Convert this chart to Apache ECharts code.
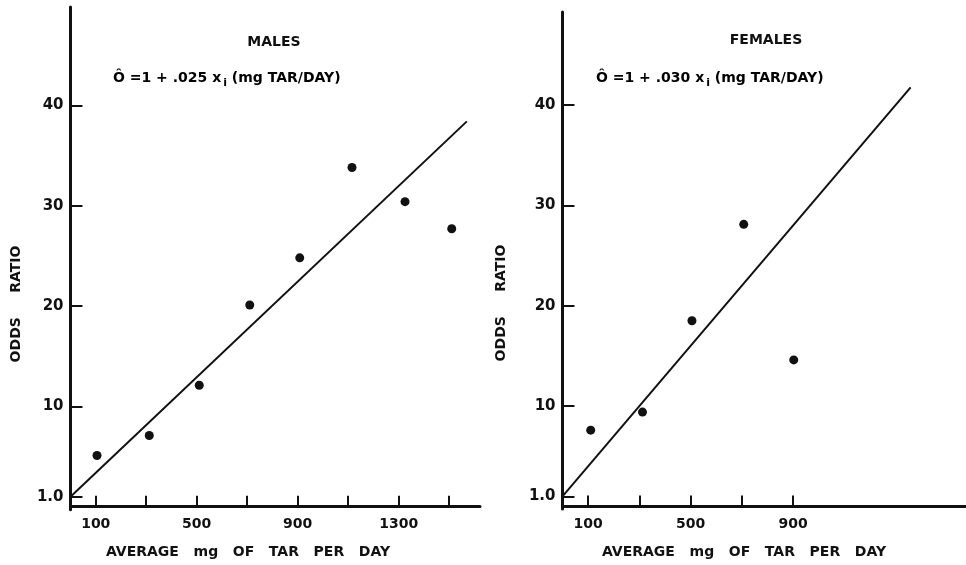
<!DOCTYPE html>
<html>
<head>
<meta charset="utf-8">
<script src="https://cdn.jsdelivr.net/npm/echarts@6/dist/echarts.min.js"></script>
<style>html,body{margin:0;padding:0;background:#fff}#c{width:966px;height:565px}</style>
</head>
<body>
<div id="c"></div>
<script>
// ---- data ----
var maleTar = [105, 312, 510, 710, 908, 1115, 1325, 1510];
var maleOdds = [5.1, 7.1, 12.1, 20.1, 24.8, 33.8, 30.4, 27.7];
var femaleTar = [110, 312, 505, 707, 902];
var femaleOdds = [7.6, 9.4, 18.5, 28.1, 14.6];
var maleLineX = [0, 1570];
var maleLineY = [1, 38.4];
var femaleLineX = [0, 1358];
var femaleLineY = [1, 41.75];
var yTicks = [1, 10, 20, 30, 40];
var maleXTicks = [100, 300, 500, 700, 900, 1100, 1300, 1500];
var maleXLabels = [100, 500, 900, 1300];
var femaleXTicks = [100, 300, 500, 700, 900];
var femaleXLabels = [100, 500, 900];
var titles = ['MALES', 'FEMALES'];
var slopes = ['.025', '.030'];
var xName = 'AVERAGE   mg   OF   TAR   PER   DAY';
var yName = 'ODDS     RATIO';

function pairs(xs, ys) { return xs.map(function (x, i) { return [x, ys[i]]; }); }

var FONT = 'DejaVu Sans';
var INK = '#111';

function xAxis(idx, max, ticks, labels) {
  return {
    type: 'value', gridIndex: idx, min: 0, max: max,
    axisLine: { lineStyle: { color: INK, width: 3 } },
    axisTick: { inside: true, length: 11, lineStyle: { color: INK, width: 2 }, customValues: ticks },
    axisLabel: { customValues: labels, fontFamily: FONT, fontWeight: 'bold', fontSize: 14, color: INK, margin: 8,
      formatter: function (v) { return String(v); } },
    splitLine: { show: false }
  };
}
function yAxis(idx, min, max) {
  return {
    type: 'value', gridIndex: idx, min: min, max: max,
    axisLine: { show: true, lineStyle: { color: INK, width: 3 } },
    axisTick: { show: true, inside: true, length: 12, lineStyle: { color: INK, width: 2 }, customValues: yTicks },
    axisLabel: { customValues: yTicks, fontFamily: FONT, fontWeight: 'bold', fontSize: 15, color: INK, margin: 7,
      formatter: function (v) { return v === 1 ? '1.0' : String(v); } },
    splitLine: { show: false }
  };
}
function formula(s) {
  return '{a|Ô =1 + ' + s + ' x}{s|i}{a| (mg TAR/DAY)}';
}
var rich = {
  a: { fontFamily: FONT, fontWeight: 'bold', fontSize: 14, color: INK, lineHeight: 20 },
  s: { fontFamily: FONT, fontWeight: 'bold', fontSize: 11, color: INK, lineHeight: 20, padding: [10, 0, 0, 2] }
};
var bold14 = 'bold 14px "DejaVu Sans"';
function label(txt, x, y, rot) {
  return { type: 'text', x: x, y: y, rotation: rot || 0,
    style: { text: txt, font: bold14, fill: INK, align: 'center', verticalAlign: 'middle' } };
}

var chart = echarts.init(document.getElementById('c'), null, { renderer: 'canvas' });
chart.setOption({
  backgroundColor: '#fff',
  animation: false,
  grid: [
    { left: 70.5, top: 7, width: 409.5, height: 502.7 },
    { left: 562.5, top: 12, width: 403.5, height: 497 }
  ],
  xAxis: [xAxis(0, 1622, maleXTicks, maleXLabels), xAxis(1, 1574, femaleXTicks, femaleXLabels)],
  yAxis: [yAxis(0, -0.3, 49.8), yAxis(1, -0.25, 49.25)],
  graphic: [
    label(titles[0], 274, 42),
    label(titles[1], 766, 40),
    { type: 'text', x: 113, y: 68, style: { text: formula(slopes[0]), rich: rich } },
    { type: 'text', x: 596, y: 68, style: { text: formula(slopes[1]), rich: rich } },
    label(xName, 248, 552),
    label(xName, 744, 552),
    label(yName, 16, 304, Math.PI / 2),
    label(yName, 501, 303, Math.PI / 2)
  ],
  series: [
    { type: 'line', xAxisIndex: 0, yAxisIndex: 0, data: pairs(maleLineX, maleLineY), symbol: 'none',
      lineStyle: { color: INK, width: 2 } },
    { type: 'scatter', xAxisIndex: 0, yAxisIndex: 0, data: pairs(maleTar, maleOdds), symbolSize: 9,
      itemStyle: { color: INK, opacity: 1 } },
    { type: 'line', xAxisIndex: 1, yAxisIndex: 1, data: pairs(femaleLineX, femaleLineY), symbol: 'none',
      lineStyle: { color: INK, width: 2 } },
    { type: 'scatter', xAxisIndex: 1, yAxisIndex: 1, data: pairs(femaleTar, femaleOdds), symbolSize: 9,
      itemStyle: { color: INK, opacity: 1 } }
  ]
});
</script>
</body>
</html>
